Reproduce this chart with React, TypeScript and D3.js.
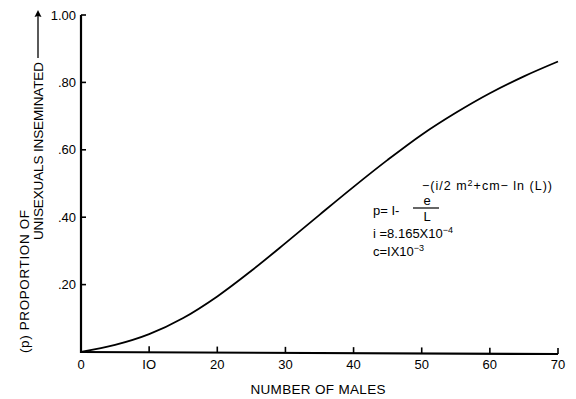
import React from "react";
import * as d3 from "d3";

const males = [0, 5, 10, 15, 20, 25, 30, 35, 40, 45, 50, 55, 60, 65, 70];
const proportion = [0, 0.021, 0.053, 0.101, 0.165, 0.241, 0.323, 0.407, 0.49, 0.57, 0.645, 0.71, 0.768, 0.818, 0.862];
const xTicks = [0, 10, 20, 30, 40, 50, 60, 70];
const xTickLabels = ["0", "IO", "20", "30", "40", "50", "60", "70"];
const yTicks = [0.2, 0.4, 0.6, 0.8, 1.0];
const yTickLabels = [".20", ".40", ".60", ".80", "1.00"];

const W = 576;
const H = 399;
const FONT = "'Liberation Sans', Arial, sans-serif";

export default function App() {
  const x = d3.scaleLinear().domain([0, 70]).range([81, 558]);
  const y = d3.scaleLinear().domain([0, 1]).range([352, 15]);
  const line = d3
    .line<number>()
    .x((_, i) => x(males[i]))
    .y((d) => y(d))
    .curve(d3.curveCatmullRom.alpha(0.5));
  const path = line(proportion) || "";

  const x0 = x(0);
  const y0 = y(0);

  return (
    <svg
      width={W}
      height={H}
      viewBox={`0 0 ${W} ${H}`}
      style={{ position: "absolute", left: 0, top: 0, background: "#fff" }}
      fontFamily={FONT}
    >
      <rect x={0} y={0} width={W} height={H} fill="#fff" />
      {/* axes */}
      <line x1={x0} y1={y(1)} x2={x0} y2={y0 + 1} stroke="#000" strokeWidth={2.2} />
      <line x1={x0 - 1} y1={y0} x2={x(70)} y2={y0 + 2} stroke="#000" strokeWidth={2.2} />
      {/* x ticks */}
      {xTicks.map((t, i) => (
        <g key={"xt" + t}>
          {t > 0 && (
            <line
              x1={x(t)}
              x2={x(t)}
              y1={y0 + (2 * t) / 70}
              y2={y0 + (2 * t) / 70 - 6}
              stroke="#000"
              strokeWidth={1.6}
            />
          )}
          <text
            x={x(t)}
            y={y0 + 17}
            textAnchor="middle"
            fontSize={13}
            fill="#000"
          >
            {xTickLabels[i]}
          </text>
        </g>
      ))}
      {/* y ticks */}
      {yTicks.map((t, i) => (
        <g key={"yt" + t}>
          <line x1={x0} x2={x0 + 5} y1={y(t)} y2={y(t)} stroke="#000" strokeWidth={1.6} />
          <text
            x={x0 - 5}
            y={y(t) + 4.5}
            textAnchor="end"
            fontSize={13}
            fill="#000"
          >
            {yTickLabels[i]}
          </text>
        </g>
      ))}
      {/* curve */}
      <path d={path} fill="none" stroke="#000" strokeWidth={1.8} />
      {/* x label */}
      <text x={318} y={394} textAnchor="middle" fontSize={13.5} textLength={135} fill="#000">
        NUMBER OF MALES
      </text>
      {/* y label */}
      <g transform="translate(29,0) rotate(-90)">
        <text x={-353} y={0} fontSize={13.5} fill="#000" textLength={143}>
          (p)  PROPORTION OF
        </text>
      </g>
      <g transform="translate(43,0) rotate(-90)">
        <text x={-240} y={0} fontSize={13.5} fill="#000" textLength={178}>
          UNISEXUALS  INSEMINATED
        </text>
        <line x1={-58} x2={-14} y1={-5} y2={-5} stroke="#000" strokeWidth={1.3} />
        <path d="M -10 -5 L -17 -8.5 L -16 -5 L -17 -1.5 Z" fill="#000" />
      </g>
      {/* formula */}
      <g fill="#000" fontSize={13}>
        <text x={373} y={215}>p= I-</text>
        <text x={427} y={205} textAnchor="middle">e</text>
        <line x1={413} x2={439} y1={208} y2={208} stroke="#000" strokeWidth={1.2} />
        <text x={427} y={221} textAnchor="middle">L</text>
        <text x={422} y={189.5} fontSize={12.5} letterSpacing={1}>
          <tspan>−(i/2   m</tspan>
          <tspan fontSize={9} dy={-4}>2</tspan>
          <tspan dy={4}>+cm− ln (L))</tspan>
        </text>
        <text x={373} y={238}>
          <tspan>i =8.165X10</tspan>
          <tspan fontSize={9} dy={-5}>−4</tspan>
        </text>
        <text x={373} y={256}>
          <tspan>c=IX10</tspan>
          <tspan fontSize={9} dy={-5}>−3</tspan>
        </text>
      </g>
    </svg>
  );
}
